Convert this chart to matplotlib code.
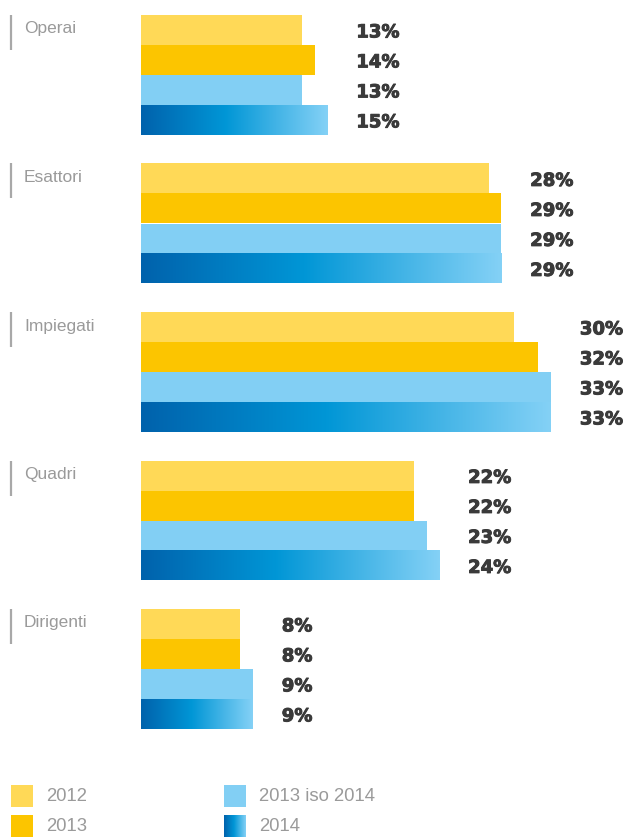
import numpy as np
import matplotlib
matplotlib.use("Agg")
import matplotlib.pyplot as plt
import matplotlib.patheffects as pe
from matplotlib.colors import LinearSegmentedColormap
from matplotlib.patches import Rectangle

# Data
categories = ["Operai", "Esattori", "Impiegati", "Quadri", "Dirigenti"]
series_names = ["2012", "2013", "2013 iso 2014", "2014"]
values_2012 = [13, 28, 30, 22, 8]
values_2013 = [14, 29, 32, 22, 8]
values_2013_iso_2014 = [13, 29, 33, 23, 9]
values_2014 = [15, 29, 33, 24, 9]
series_values = [values_2012, values_2013, values_2013_iso_2014, values_2014]

# Styling
W, H = 631, 838
PX_PER_PCT = 12.42     # horizontal scale
X0_PX = 141            # pixel position of the 0% baseline
BAR_PX = 30.0          # bar height in pixels (y unit)
GROUP_PITCH = 148.5 / BAR_PX
TOP = 15 / BAR_PX

solid_colors = ["#FFD957", "#FCC500", "#82CFF4"]
blue_grad = LinearSegmentedColormap.from_list(
    "blue_grad", [(0.0, "#0062AC"), (0.45, "#0096D6"), (1.0, "#84D1F6")])
label_gray = "#9A9A9A"
value_color = "#3A3A3A"


def px_x(p):
    return (p - X0_PX) / PX_PER_PCT


def px_y(p):
    return p / BAR_PX


fig = plt.figure(figsize=(W / 100, H / 100), dpi=100)
ax = fig.add_axes([0, 0, 1, 1])
ax.set_axis_off()

gradient = np.linspace(0, 1, 256).reshape(1, -1)
heavy = [pe.withStroke(linewidth=0.7, foreground=value_color)]

for i, cat in enumerate(categories):
    g_top = TOP + i * GROUP_PITCH
    for j, vals in enumerate(series_values):
        yc = g_top + j + 0.5
        v = vals[i]
        if j < 3:
            ax.barh(yc, v, height=1.0, left=0, color=solid_colors[j],
                    edgecolor="none", linewidth=0)
        else:
            ax.imshow(gradient, cmap=blue_grad, aspect="auto",
                      extent=[0, v, yc + 0.5, yc - 0.5],
                      interpolation="bilinear", zorder=2)
    # value labels, aligned at a common x to the right of the group's longest bar
    lab_x = max(vals[i] for vals in series_values) + 29 / PX_PER_PCT
    for j, vals in enumerate(series_values):
        yc = g_top + j + 0.5
        ax.text(lab_x, yc + 0.08, f"{vals[i]}%", ha="left", va="center",
                fontsize=13, fontweight="bold", color=value_color,
                family="DejaVu Sans", path_effects=heavy)
    # category label with marker line
    ax.plot([px_x(11), px_x(11)], [g_top, g_top + px_y(35)],
            color="#A8A8A8", lw=1.6, solid_capstyle="butt")
    ax.text(px_x(24), g_top + px_y(14), cat, ha="left", va="center",
            fontsize=12.5, color=label_gray, family="Liberation Sans")

# Legend
legend_items = [
    (series_names[0], 11, 785, solid_colors[0]),
    (series_names[1], 11, 815, solid_colors[1]),
    (series_names[2], 224, 785, solid_colors[2]),
    (series_names[3], 224, 815, None),
]
for name, lx, ly, col in legend_items:
    x0, x1 = px_x(lx), px_x(lx + 22)
    y0, y1 = px_y(ly), px_y(ly + 22)
    if col is not None:
        ax.add_patch(Rectangle((x0, y0), x1 - x0, y1 - y0, facecolor=col,
                               edgecolor="none"))
    else:
        ax.imshow(gradient, cmap=blue_grad, aspect="auto",
                  extent=[x0, x1, y1, y0], interpolation="bilinear", zorder=2)
    ax.text(px_x(lx + 35), px_y(ly + 11), name, ha="left", va="center",
            fontsize=13.3, color=label_gray, family="Liberation Sans")

ax.set_xlim(px_x(0), px_x(W))
ax.set_ylim(px_y(H), px_y(0))

fig.savefig("out.png", dpi=100, facecolor="white")
